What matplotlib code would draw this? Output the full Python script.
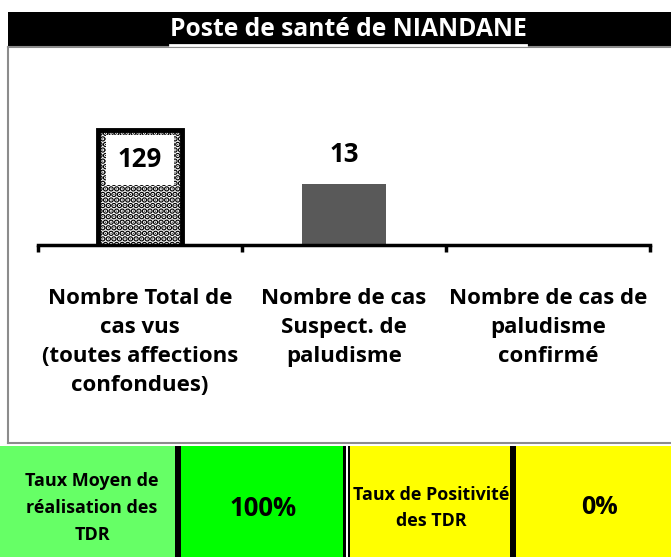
import matplotlib
matplotlib.use("Agg")
import matplotlib.pyplot as plt
from matplotlib.patches import Rectangle
from matplotlib.lines import Line2D

plt.rcParams['font.family'] = ['Open Sans', 'DejaVu Sans']
plt.rcParams['hatch.linewidth'] = 3.0

title = "Poste de santé de NIANDANE"
categories = ["Nombre Total de\ncas vus\n(toutes affections\nconfondues)",
              "Nombre de cas\nSuspect. de\npaludisme",
              "Nombre de cas de\npaludisme\nconfirmé"]
values = [129, 13, 0]
table_labels = ["Taux Moyen de\nréalisation des\nTDR", "100%", "Taux de Positivité\ndes TDR", "0%"]

W, H = 671, 557
fig = plt.figure(figsize=(W / 100, H / 100), dpi=100)

def fx(px):
    return px / W

def fy(py):
    return 1 - py / H

# title bar
fig.patches.append(Rectangle((fx(8), fy(47)), fx(663), 35 / H, transform=fig.transFigure,
                             facecolor='black', edgecolor='none'))
t = fig.text(fx(348), fy(29), title, color='white', fontsize=17.7, fontweight='bold',
             ha='center', va='center')

# chart border (gray)
for xs, ys in [((8, 8), (47, 443)), ((8, 671), (443, 443)), ((8, 671), (47, 47))]:
    fig.lines.append(Line2D([fx(x) for x in xs], [fy(y) for y in ys], transform=fig.transFigure,
                            color='#8c8c8c', linewidth=1.5))

# bar axes
ax = fig.add_axes([fx(38), fy(245), fx(612), 180 / H])
ax.set_yscale('log')
ax.set_ylim(1, 10 ** (180 / 54.5))
ax.set_xlim(-0.5, 2.5)
xs = list(range(len(values)))
bars = ax.bar(xs, values, width=0.41)
bars[0].set_facecolor('white')
bars[0].set_edgecolor('black')
bars[0].set_hatch('...')
bars[0].set_linewidth(3.5)
bars[1].set_facecolor('#595959')
bars[1].set_edgecolor('none')
for sp in ['top', 'left', 'right']:
    ax.spines[sp].set_visible(False)
ax.spines['bottom'].set_linewidth(2.5)
ax.set_yticks([])
ax.yaxis.set_minor_locator(matplotlib.ticker.NullLocator())
ax.set_xticks([-0.5, 0.5, 1.5, 2.5])
ax.set_xticklabels([])
ax.tick_params(axis='x', direction='out', length=5, width=2.5)
ax.patch.set_alpha(0)

ax.annotate(str(values[0]), xy=(0, values[0]), xytext=(0, -21.5), textcoords='offset points',
            ha='center', va='center', fontsize=18.5, fontweight='bold',
            bbox=dict(boxstyle='square,pad=0.45', facecolor='white', edgecolor='none'))
ax.annotate(str(values[1]), xy=(1, values[1]), xytext=(0, 21.5), textcoords='offset points',
            ha='center', va='center', fontsize=18.5, fontweight='bold')

for i, lab in enumerate(categories):
    ax.annotate(lab, xy=(i, 0), xycoords=('data', 'axes fraction'), xytext=(0, -31),
                textcoords='offset points', ha='center', va='top', fontsize=16,
                fontweight='bold', linespacing=1.49)

# bottom table
cells = [(0, 175, '#66FF66'), (175, 181, 'black'), (181, 343, '#00FF00'),
         (343, 346, 'black'), (346, 348, 'white'), (348, 350, 'black'),
         (350, 510, '#FFFF00'), (510, 516, 'black'), (516, 671, '#FFFF00')]
for x0, x1, c in cells:
    fig.patches.append(Rectangle((fx(x0), 0), fx(x1 - x0), fy(446), transform=fig.transFigure,
                                 facecolor=c, edgecolor='none'))
fig.text(fx(92), fy(508), table_labels[0], ha='center', va='center', fontsize=13,
         fontweight='bold', linespacing=1.65)
fig.text(fx(263), fy(508), table_labels[1], ha='center', va='center', fontsize=18.5,
         fontweight='bold')
fig.text(fx(431), fy(508), table_labels[2], ha='center', va='center', fontsize=12.9,
         fontweight='bold', linespacing=1.55)
fig.text(fx(600), fy(508), table_labels[3], ha='center', va='center', fontsize=18,
         fontweight='bold')

# underline for title
fig.canvas.draw()
bb = t.get_window_extent().transformed(fig.transFigure.inverted())
fig.lines.append(Line2D([bb.x0, bb.x1], [fy(44.5), fy(44.5)], transform=fig.transFigure,
                        color='white', linewidth=2))

fig.savefig('out.png', dpi=100)
